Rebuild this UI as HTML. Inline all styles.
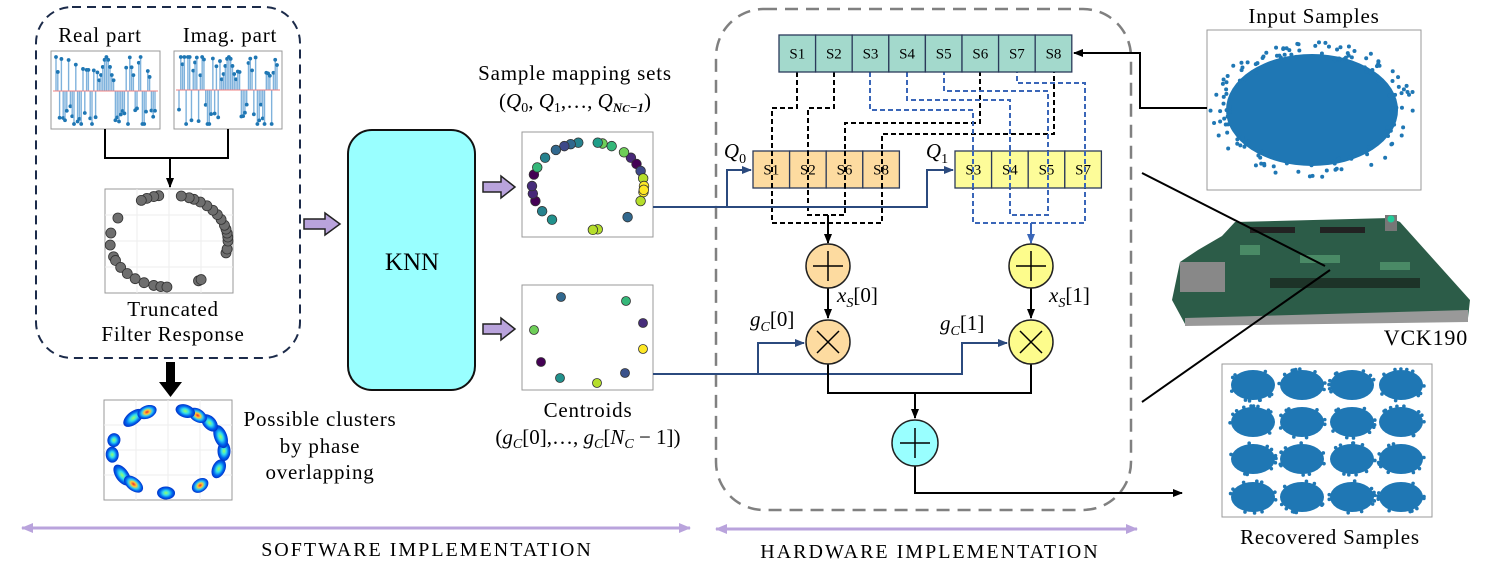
<!DOCTYPE html>
<html><head><meta charset="utf-8"><style>
html,body{margin:0;padding:0;background:#fff;}
svg{display:block;font-family:"Liberation Serif",serif;}
.l{font-size:21px;letter-spacing:0.8px;}
</style></head><body>
<svg id="s" width="1494" height="575" viewBox="0 0 1494 575" xmlns="http://www.w3.org/2000/svg">
<defs>
<marker id="ab" markerWidth="10" markerHeight="8" refX="9" refY="4" orient="auto" markerUnits="userSpaceOnUse"><path d="M0,0 L10,4 L0,8 Z" fill="#000"/></marker>
<marker id="an" markerWidth="10" markerHeight="8" refX="9" refY="4" orient="auto" markerUnits="userSpaceOnUse"><path d="M0,0 L10,4 L0,8 Z" fill="#2b4a7e"/></marker>
<marker id="al" markerWidth="10" markerHeight="8" refX="9" refY="4" orient="auto" markerUnits="userSpaceOnUse"><path d="M0,0 L10,4 L0,8 Z" fill="#3a66b8"/></marker>
<marker id="ap" markerWidth="12" markerHeight="10" refX="11" refY="5" orient="auto" markerUnits="userSpaceOnUse"><path d="M0,0 L12,5 L0,10 Z" fill="#b9a3dc"/></marker>
<marker id="ap2" markerWidth="12" markerHeight="10" refX="1" refY="5" orient="auto" markerUnits="userSpaceOnUse"><path d="M12,0 L0,5 L12,10 Z" fill="#b9a3dc"/></marker>
<radialGradient id="hm"><stop offset="0" stop-color="#e23"/><stop offset="0.3" stop-color="#fc3"/><stop offset="0.55" stop-color="#3ce"/><stop offset="0.8" stop-color="#06e"/><stop offset="1" stop-color="#0030c8"/></radialGradient>
<radialGradient id="hm2"><stop offset="0" stop-color="#9f6"/><stop offset="0.35" stop-color="#3de"/><stop offset="0.7" stop-color="#06e"/><stop offset="1" stop-color="#0030c8"/></radialGradient>
</defs>

<rect x="36" y="7" width="264" height="351" rx="36" fill="none" stroke="#1c2b4a" stroke-width="2" stroke-dasharray="9,6"/>
<text x="100" y="42" class="l" text-anchor="middle">Real part</text>
<text x="230" y="42" class="l" text-anchor="middle">Imag. part</text>
<rect x="51" y="51" width="109" height="78" fill="#fff" stroke="#999"/>
<rect x="174" y="51" width="108" height="78" fill="#fff" stroke="#999"/>
<g id="stems"></g>
<path d="M105,129 V158 H228 V129" fill="none" stroke="#000" stroke-width="2"/>
<line x1="170" y1="158" x2="170" y2="187" stroke="#000" stroke-width="2" marker-end="url(#ab)"/>
<rect x="105" y="189" width="128" height="104" fill="#fff" stroke="#999"/>
<g stroke="#eee" stroke-width="1"><line x1="105" y1="215" x2="233" y2="215"/><line x1="105" y1="241" x2="233" y2="241"/><line x1="105" y1="267" x2="233" y2="267"/><line x1="137" y1="189" x2="137" y2="293"/><line x1="169" y1="189" x2="169" y2="293"/><line x1="201" y1="189" x2="201" y2="293"/></g>
<g id="gray" fill="#6e6e6e" stroke="#333" stroke-width="0.8"></g>
<text x="173" y="316" class="l" font-size="22" text-anchor="middle">Truncated</text>
<text x="173" y="341" class="l" font-size="22" text-anchor="middle">Filter Response</text>

<rect x="166" y="362" width="9" height="22" fill="#000"/>
<path d="M159,382 L182,382 L170.5,397 Z" fill="#000"/>
<rect x="104" y="400" width="128" height="100" fill="#fff" stroke="#999"/>
<g stroke="#eee"><line x1="104" y1="425" x2="232" y2="425"/><line x1="104" y1="450" x2="232" y2="450"/><line x1="104" y1="475" x2="232" y2="475"/><line x1="136" y1="400" x2="136" y2="500"/><line x1="168" y1="400" x2="168" y2="500"/><line x1="200" y1="400" x2="200" y2="500"/></g>
<g id="heat"></g>
<text x="320" y="426" class="l" text-anchor="middle">Possible clusters</text>
<text x="320" y="453" class="l" text-anchor="middle">by phase</text>
<text x="320" y="479" class="l" text-anchor="middle">overlapping</text>

<g fill="#b9a3dc" stroke="#222" stroke-width="1.5">
<path d="M304,219 H325 V213 L340,224 L325,235 V229 H304 Z"/>
<path d="M483,182 H501 V176 L515,187 L501,198 V192 H483 Z"/>
<path d="M483,324 H501 V318 L515,329 L501,340 V334 H483 Z"/>
</g>

<rect x="348" y="130" width="127" height="260" rx="24" fill="#99ffff" stroke="#111" stroke-width="2"/>
<text x="412" y="270" font-size="25" text-anchor="middle">KNN</text>

<text x="575" y="80" class="l" text-anchor="middle">Sample mapping sets</text>
<text x="575" y="108" font-size="21" text-anchor="middle">(<tspan font-style="italic">Q</tspan><tspan font-size="14" dy="4">0</tspan><tspan dy="-4">, </tspan><tspan font-style="italic">Q</tspan><tspan font-size="14" dy="4">1</tspan><tspan dy="-4">,…, </tspan><tspan font-style="italic">Q</tspan><tspan font-size="13" dy="4" font-style="italic" font-weight="bold">N<tspan font-size="11">C</tspan>−1</tspan><tspan dy="-4">)</tspan></text>
<rect x="522" y="132" width="131" height="105" fill="#fff" stroke="#999"/>
<g id="col" stroke="#333" stroke-width="0.8"></g>
<rect x="522" y="285" width="131" height="105" fill="#fff" stroke="#999"/>
<g stroke="#333" stroke-width="0.8">
<circle cx="561" cy="297" r="4.5" fill="#31688e"/><circle cx="626" cy="301" r="4.5" fill="#35b779"/>
<circle cx="534" cy="330" r="4.5" fill="#6ece58"/><circle cx="643" cy="323" r="4.5" fill="#472d7b"/>
<circle cx="541" cy="362" r="4.5" fill="#440154"/><circle cx="643" cy="349" r="4.5" fill="#fde725"/>
<circle cx="560" cy="378" r="4.5" fill="#21918c"/><circle cx="597" cy="383" r="4.5" fill="#b5de2b"/>
<circle cx="625" cy="373" r="4.5" fill="#3b528b"/>
</g>
<text x="588" y="417" class="l" text-anchor="middle">Centroids</text>
<text x="588" y="444" font-size="21" text-anchor="middle">(<tspan font-style="italic">g</tspan><tspan font-size="14" dy="4" font-style="italic">C</tspan><tspan dy="-4">[0],…, </tspan><tspan font-style="italic">g</tspan><tspan font-size="14" dy="4" font-style="italic">C</tspan><tspan dy="-4">[</tspan><tspan font-style="italic">N</tspan><tspan font-size="14" dy="4" font-style="italic">C</tspan><tspan dy="-4"> − 1])</tspan></text>

<line x1="22" y1="528" x2="690" y2="528" stroke="#b9a3dc" stroke-width="3" marker-end="url(#ap)" marker-start="url(#ap2)"/>
<text x="427" y="556" font-size="20" text-anchor="middle" letter-spacing="2">SOFTWARE IMPLEMENTATION</text>
<line x1="716" y1="529" x2="1137" y2="529" stroke="#b9a3dc" stroke-width="3" marker-end="url(#ap)" marker-start="url(#ap2)"/>
<text x="930" y="558" font-size="20" text-anchor="middle" letter-spacing="2">HARDWARE IMPLEMENTATION</text>

<rect x="716" y="9" width="415" height="501" rx="48" fill="none" stroke="#808080" stroke-width="2.5" stroke-dasharray="13,8"/>

<g fill="none" stroke="#000" stroke-width="2" stroke-dasharray="5,3">
<path d="M797,72 V108 H772 V223 H882 V134 H1054 V72"/>
<path d="M834,72 V108 H808 V215 H845 V123 H980 V72"/>
</g>
<g fill="none" stroke="#3a66b8" stroke-width="2" stroke-dasharray="5,3">
<path d="M870,72 V110 H973 V223 H1085 V83 H1017 V72"/>
<path d="M907,72 V100 H1010 V215 H1048 V91 H944 V72"/>
</g>

<g font-size="15" text-anchor="middle" id="sarr"></g>

<text x="735" y="158" font-size="21" font-style="italic" text-anchor="middle">Q<tspan font-size="14" font-style="normal" dy="5">0</tspan></text>
<text x="937" y="158" font-size="21" font-style="italic" text-anchor="middle">Q<tspan font-size="14" font-style="normal" dy="5">1</tspan></text>

<path d="M653,207 H727 V170 H751" fill="none" stroke="#2b4a7e" stroke-width="2" marker-end="url(#an)"/>
<path d="M727,207 H927 V170 H953" fill="none" stroke="#2b4a7e" stroke-width="2" marker-end="url(#an)"/>
<path d="M653,374 H758 V343 H804" fill="none" stroke="#2b4a7e" stroke-width="2" marker-end="url(#an)"/>
<path d="M758,374 H962 V343 H1007" fill="none" stroke="#2b4a7e" stroke-width="2" marker-end="url(#an)"/>

<line x1="828" y1="215" x2="828" y2="243" stroke="#000" stroke-width="2" marker-end="url(#ab)"/>
<line x1="1031" y1="223" x2="1031" y2="243" stroke="#3a66b8" stroke-width="2" marker-end="url(#al)"/>
<line x1="828" y1="288" x2="828" y2="318" stroke="#000" stroke-width="2" marker-end="url(#ab)"/>
<line x1="1031" y1="288" x2="1031" y2="318" stroke="#000" stroke-width="2" marker-end="url(#ab)"/>
<path d="M828,364 V393 H1031 V364" fill="none" stroke="#000" stroke-width="2"/>
<line x1="915" y1="393" x2="915" y2="418" stroke="#000" stroke-width="2" marker-end="url(#ab)"/>
<path d="M915,466 V493 H1182" fill="none" stroke="#000" stroke-width="2" marker-end="url(#ab)"/>

<g stroke="#222" stroke-width="1.5">
<circle cx="828" cy="266" r="22" fill="#fddba0"/>
<circle cx="1031" cy="266" r="22" fill="#fdfc8c"/>
<circle cx="828" cy="342" r="22" fill="#fddba0"/>
<circle cx="1031" cy="342" r="22" fill="#fdfc8c"/>
<circle cx="915" cy="443" r="23" fill="#99ffff"/>
<path d="M813,266 H843 M828,251 V281 M1016,266 H1046 M1031,251 V281 M900,443 H930 M915,428 V458 M817,331 L839,353 M839,331 L817,353 M1020,331 L1042,353 M1042,331 L1020,353" stroke="#000"/>
</g>
<text x="837" y="302" font-size="21" font-style="italic">x<tspan font-size="14" dy="5">S</tspan><tspan dy="-5" font-style="normal">[0]</tspan></text>
<text x="1049" y="302" font-size="21" font-style="italic">x<tspan font-size="14" dy="5">S</tspan><tspan dy="-5" font-style="normal">[1]</tspan></text>
<text x="750" y="326" font-size="21" font-style="italic">g<tspan font-size="14" dy="5">C</tspan><tspan dy="-5" font-style="normal">[0]</tspan></text>
<text x="940" y="330" font-size="21" font-style="italic">g<tspan font-size="14" dy="5">C</tspan><tspan dy="-5" font-style="normal">[1]</tspan></text>

<text x="1314" y="23" class="l" text-anchor="middle">Input Samples</text>
<rect x="1207" y="30" width="214" height="160" fill="#fff" stroke="#999"/>
<path d="M1207,108 H1140 V53 H1074" fill="none" stroke="#000" stroke-width="2" marker-end="url(#ab)"/>
<ellipse cx="1312" cy="110" rx="86" ry="56" fill="#1f77b4"/>
<g id="cloud" fill="#1f77b4"></g>

<path d="M1172,300 L1180,262 L1198,250 L1222,236 L1235,222 L1390,218 L1400,222 L1470,300 L1468,318 L1185,324 Z" fill="#2c5c48"/>
<path d="M1185,318 L1468,310 L1468,322 L1185,326 Z" fill="#999"/>
<rect x="1180" y="262" width="45" height="30" fill="#888"/>
<rect x="1270" y="278" width="150" height="10" fill="#1d3328"/>
<rect x="1250" y="227" width="45" height="6" fill="#222"/>
<rect x="1320" y="227" width="45" height="6" fill="#222"/>
<rect x="1385" y="215" width="12" height="16" fill="#777"/>
<circle cx="1391" cy="219" r="3.5" fill="#2c9"/>
<g fill="#4a8a66"><rect x="1240" y="245" width="20" height="10"/><rect x="1300" y="255" width="40" height="8"/><rect x="1380" y="262" width="30" height="8"/></g>
<text x="1468" y="345" font-size="22" text-anchor="end" letter-spacing="0.8">VCK190</text>
<line x1="1142" y1="173" x2="1325" y2="266" stroke="#000" stroke-width="2"/>
<line x1="1142" y1="402" x2="1330" y2="270" stroke="#000" stroke-width="2"/>

<rect x="1222" y="364" width="210" height="153" fill="#fff" stroke="#999"/>
<g id="rec" fill="#1f77b4"></g>
<text x="1330" y="544" class="l" text-anchor="middle">Recovered Samples</text>
</svg>
<script>
(function(){
var NS="http://www.w3.org/2000/svg";
var seed=7;function r(){seed=(seed*16807)%2147483647;return (seed-1)/2147483646;}
function el(p,t,a){var e=document.createElementNS(NS,t);for(var k in a)e.setAttribute(k,a[k]);p.appendChild(e);return e;}
var st=document.getElementById("stems");
function stem(x0,w,axis){
 var n=56;for(var i=0;i<n;i++){var x=x0+5+i*(w-10)/(n-1);var v=(r()<0.5?-1:1)*(14+r()*24);
 var c=Math.abs(i-n/2)<5; if(c) v=-(22+Math.cos((i-n/2)*0.7)*12);
 var y=axis+v; if(y<57)y=57; if(y>124)y=124;
 el(st,"line",{x1:x,y1:axis,x2:x,y2:y,stroke:"#7fb2dc","stroke-width":1.4});
 el(st,"circle",{cx:x,cy:y,r:1.9,fill:"#1f77b4"});}
 el(st,"line",{x1:x0+2,y1:axis,x2:x0+w-2,y2:axis,stroke:"#f08080","stroke-width":1});
}
stem(51,109,91);stem(174,108,90);
var g=document.getElementById("gray");
var angs=[100,105,112,118,150,170,185,200,205,215,225,235,245,255,262,268,300,303,345,350,0,5,10,15,20,28,35,42,50,58,65,70,78];
angs.forEach(function(a){var t=a*Math.PI/180;el(g,"circle",{cx:169+59*Math.cos(t),cy:241-46*Math.sin(t),r:5});});
var c=document.getElementById("col");
var ac=[[100,"#26828e"],[108,"#31688e"],[115,"#3e4989"],[75,"#6ece58"],[65,"#35b779"],[80,"#1f9e89"],[40,"#482878"],[30,"#440154"],[20,"#3e4989"],[10,"#b5de2b"],[0,"#fde725"],[-8,"#fde725"],[-20,"#b5de2b"],[-45,"#31688e"],[-80,"#b5de2b"],[-85,"#b5de2b"],[-130,"#21918c"],[-145,"#26828e"],[-160,"#440154"],[-170,"#482878"],[-180,"#472d7b"],[-195,"#440154"],[155,"#35b779"],[140,"#26828e"],[125,"#31688e"],[50,"#6ece58"],[-5,"#fde725"]];
ac.forEach(function(p){var t=p[0]*Math.PI/180;el(c,"circle",{cx:588+56*Math.cos(t),cy:186-44*Math.sin(t),r:4.8,fill:p[1]});});
var h=document.getElementById("heat");
[[128,"hm2",12],[112,"hm",10],[165,"hm2",7],[185,"hm2",8],[215,"hm2",12],[232,"hm",11],[268,"hm2",9],[305,"hm",9],[335,"hm2",10],[0,"hm2",10],[20,"hm2",12],[42,"hm2",10],[58,"hm",10],[72,"hm2",10]].forEach(function(p){var t=p[0]*Math.PI/180;var cx=168+56*Math.cos(t),cy=451-42*Math.sin(t);el(h,"ellipse",{cx:cx,cy:cy,rx:p[2],ry:6.5,fill:"url(#"+p[1]+")",transform:"rotate("+(-p[0]+90)+" "+cx+" "+cy+")"});});
var cl=document.getElementById("cloud");
for(var i=0;i<150;i++){var t=r()*6.283,d=0.92+r()*0.3;el(cl,"circle",{cx:1312+86*d*Math.cos(t),cy:110+56*d*Math.sin(t),r:2});}
var rc=document.getElementById("rec");
var xs=[1253,1302,1352,1401],ys=[385,422,459,497];
xs.forEach(function(x){ys.forEach(function(y){el(rc,"ellipse",{cx:x,cy:y,rx:22,ry:15});for(var k=0;k<10;k++){var t=r()*6.283;el(rc,"circle",{cx:x+23*Math.cos(t),cy:y+16*Math.sin(t),r:1.8});}});});
var sa=document.getElementById("sarr");
function arr(x0,y0,w,h,labels,fill){labels.forEach(function(l,i){el(sa,"rect",{x:x0+i*w,y:y0,width:w,height:h,fill:fill,stroke:"#2b3a5a","stroke-width":1.3});var t=el(sa,"text",{x:x0+i*w+w/2,y:y0+h/2+5});t.textContent=l;});}
arr(779,35,36.6,37,["S1","S2","S3","S4","S5","S6","S7","S8"],"#a3d9cc");
arr(753,151,36.6,37,["S1","S2","S6","S8"],"#fddba0");
arr(955,151,36.6,37,["S3","S4","S5","S7"],"#fdfc99");
var svg=document.getElementById("s");
var g2=el(svg,"g",{fill:"none","stroke-width":2,"stroke-dasharray":"5,3"});
[[772,"#000"],[808,"#000"],[845,"#000"],[882,"#000"],[973,"#3a66b8"],[1010,"#3a66b8"],[1048,"#3a66b8"],[1085,"#3a66b8"]].forEach(function(p){el(g2,"line",{x1:p[0],y1:151,x2:p[0],y2:188,stroke:p[1]});});
})();
</script>
</body></html>
